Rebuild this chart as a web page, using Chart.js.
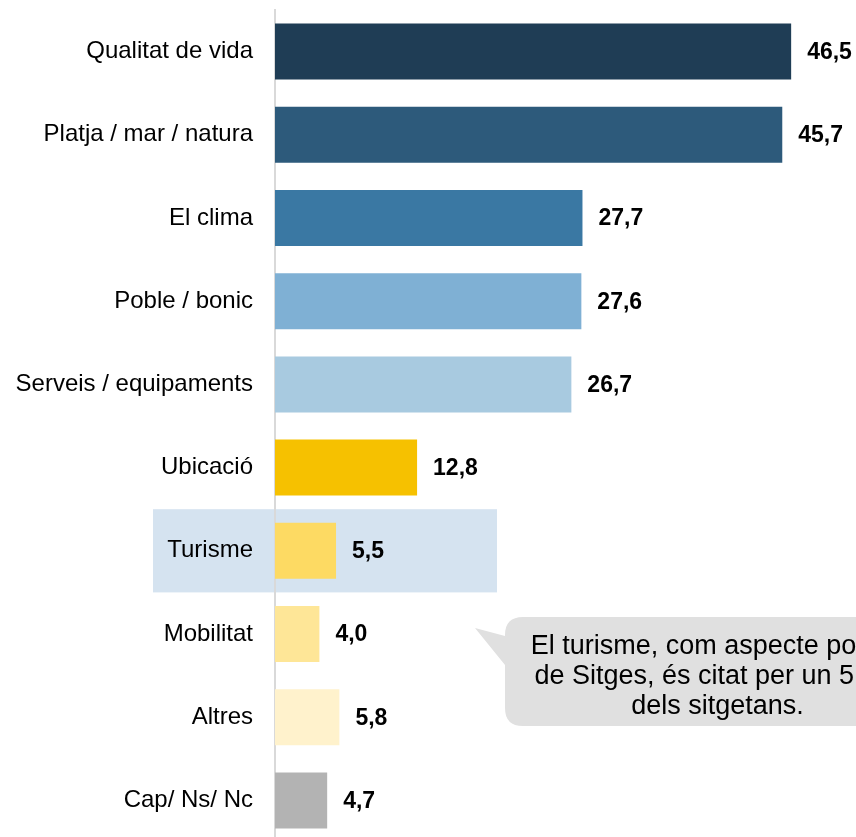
<!DOCTYPE html>
<html>
<head>
<meta charset="utf-8">
<script src="https://cdn.jsdelivr.net/npm/chart.js@4.4.1/dist/chart.umd.min.js"></script>
<style>
  html, body { margin: 0; padding: 0; background: #fff; overflow: hidden; }
  #wrap { position: relative; width: 856px; height: 842px; }
</style>
</head>
<body>
<div id="wrap"><canvas id="barChart"></canvas></div>
<script>
const categories = [
  'Qualitat de vida',
  'Platja / mar / natura',
  'El clima',
  'Poble / bonic',
  'Serveis / equipaments',
  'Ubicació',
  'Turisme',
  'Mobilitat',
  'Altres',
  'Cap/ Ns/ Nc',
];
const values = [46.5, 45.7, 27.7, 27.6, 26.7, 12.8, 5.5, 4.0, 5.8, 4.7];
const barColors = [
  '#1f3d55', '#2d5a7b', '#3a78a3', '#7fb0d4', '#a8cae0',
  '#f6c100', '#fdda63', '#fee697', '#fff2cc', '#b3b3b3',
];
const highlightIndex = 6;
const calloutLines = [
  'El turisme, com aspecte positiu',
  'de Sitges, és citat per un 5,5%',
  'dels sitgetans.',
];

const FONT = '"Liberation Sans", Arial, sans-serif';

// light blue band behind the highlighted row (drawn before scales so labels sit on top)
const highlightPlugin = {
  id: 'highlight',
  beforeDraw(chart) {
    const { ctx, chartArea, scales } = chart;
    const rowH = (chartArea.bottom - chartArea.top) / categories.length;
    const yc = scales.y.getPixelForValue(highlightIndex);
    const right = scales.x.getPixelForValue(20);
    ctx.save();
    ctx.fillStyle = '#d5e3f0';
    ctx.fillRect(chartArea.left - 122, yc - rowH / 2, right - (chartArea.left - 122), rowH);
    ctx.restore();
  },
};

// bold value labels at the end of each bar
const valueLabels = {
  id: 'valueLabels',
  afterDatasetsDraw(chart) {
    const { ctx } = chart;
    const meta = chart.getDatasetMeta(0);
    ctx.save();
    ctx.font = 'bold 23px ' + FONT;
    ctx.fillStyle = '#000';
    ctx.textAlign = 'left';
    ctx.textBaseline = 'middle';
    meta.data.forEach((bar, i) => {
      ctx.fillText(values[i].toFixed(1).replace('.', ','), bar.x + 16, bar.y + 1);
    });
    ctx.restore();
  },
};

// speech-bubble callout
const calloutPlugin = {
  id: 'callout',
  afterDraw(chart) {
    const { ctx } = chart;
    const left = 505, top = 617, right = 930, bottom = 726, r = 18;
    ctx.save();
    ctx.fillStyle = '#e0e0e0';
    ctx.beginPath();
    ctx.moveTo(left + r, top);
    ctx.lineTo(right - r, top);
    ctx.quadraticCurveTo(right, top, right, top + r);
    ctx.lineTo(right, bottom - r);
    ctx.quadraticCurveTo(right, bottom, right - r, bottom);
    ctx.lineTo(left + r, bottom);
    ctx.quadraticCurveTo(left, bottom, left, bottom - r);
    ctx.lineTo(left, 665);
    ctx.lineTo(475, 628);
    ctx.lineTo(left, 636);
    ctx.lineTo(left, top + r);
    ctx.quadraticCurveTo(left, top, left + r, top);
    ctx.closePath();
    ctx.fill();
    ctx.font = '27px ' + FONT;
    ctx.fillStyle = '#000';
    ctx.textAlign = 'center';
    ctx.textBaseline = 'alphabetic';
    const cx = (left + right) / 2;
    calloutLines.forEach((line, i) => {
      ctx.fillText(line, cx, 654 + i * 30);
    });
    ctx.restore();
  },
};

new Chart(document.getElementById('barChart').getContext('2d'), {
  type: 'bar',
  data: {
    labels: categories,
    datasets: [{
      data: values,
      backgroundColor: barColors,
      borderWidth: 0,
      categoryPercentage: 1,
      barPercentage: 0.673,
    }],
  },
  options: {
    indexAxis: 'y',
    responsive: true,
    maintainAspectRatio: false,
    animation: false,
    layout: { padding: { top: 10, right: 26, bottom: 0, left: 0 } },
    plugins: {
      legend: { display: false },
      tooltip: { enabled: false },
    },
    scales: {
      x: {
        display: false,
        min: 0,
        max: 50,
      },
      y: {
        grid: { display: false, drawTicks: false },
        border: { display: true, color: '#d9d9d9', width: 2 },
        ticks: {
          padding: 22,
          color: '#000',
          font: { family: FONT, size: 24 },
        },
        afterFit(scale) {
          scale.width = 275;
          scale.paddingTop = 0;
          scale.paddingBottom = 0;
        },
      },
    },
  },
  plugins: [highlightPlugin, valueLabels, calloutPlugin],
});
</script>
</body>
</html>
